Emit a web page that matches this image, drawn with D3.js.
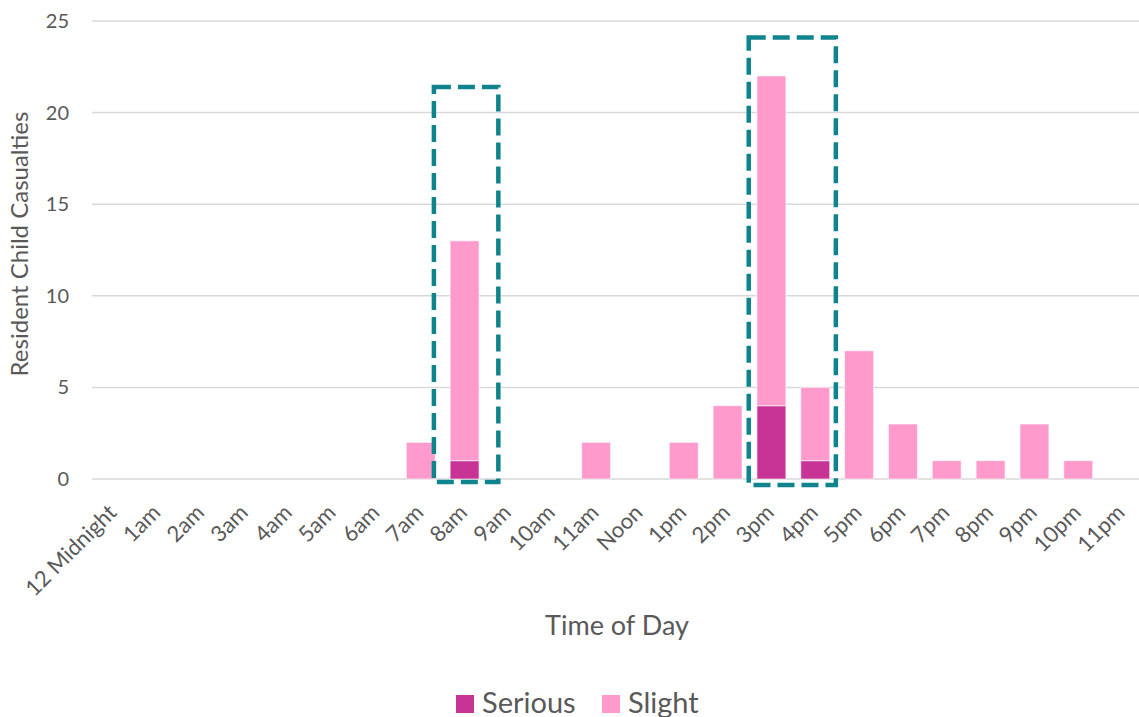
<!DOCTYPE html>
<html>
<head>
<meta charset="utf-8">
<script src="https://cdn.jsdelivr.net/npm/d3@7"></script>
<style>
  html, body { margin: 0; padding: 0; background: #ffffff; }
  svg { display: block; }
  text { font-family: Lato, "Open Sans", sans-serif; fill: #595959; }
</style>
</head>
<body>
<svg id="chart" width="1139" height="717"></svg>
<script>
// Hour-of-day categories
const hours = ["12 Midnight", "1am", "2am", "3am", "4am", "5am", "6am", "7am", "8am", "9am",
  "10am", "11am", "Noon", "1pm", "2pm", "3pm", "4pm", "5pm", "6pm", "7pm", "8pm", "9pm", "10pm", "11pm"];

// Casualties by severity, one value per hour
const serious = [0, 0, 0, 0, 0, 0, 0, 0, 1, 0, 0, 0, 0, 0, 0, 4, 1, 0, 0, 0, 0, 0, 0, 0];
const slight  = [0, 0, 0, 0, 0, 0, 0, 2, 12, 0, 0, 2, 0, 2, 4, 18, 4, 7, 3, 1, 1, 3, 1, 0];

const yTicks = [0, 5, 10, 15, 20, 25];
const seriesNames = ["Serious", "Slight"];
const seriesColors = ["#c83496", "#ff9acc"];

// School-run periods highlighted with dashed outlines
const highlightFrom = ["8am", "3pm"];
const highlightTo = ["8am", "4pm"];
const highlightTop = [21.4, 24.1];

const svg = d3.select("#chart");
const plot = { left: 92, right: 1144, top: 21, bottom: 479 };

const x = d3.scaleBand().domain(hours).range([plot.left, plot.right]).paddingInner(0.34).paddingOuter(0.17);
const y = d3.scaleLinear().domain([0, 25]).range([plot.bottom, plot.top]);

// Horizontal gridlines
svg.append("g").selectAll("line").data(yTicks).join("line")
  .attr("x1", plot.left).attr("x2", 1139)
  .attr("y1", d => y(d)).attr("y2", d => y(d))
  .attr("stroke", "#d9d9d9").attr("stroke-width", 1.5);

// Y axis labels
const yAxis = svg.append("g").attr("transform", `translate(${plot.left},0)`)
  .call(d3.axisLeft(y).tickValues(yTicks).tickSize(0).tickPadding(23));
yAxis.select(".domain").remove();
yAxis.selectAll("text").style("font-size", "20px").attr("fill", "#595959")
  .style("font-family", "Lato, sans-serif");

// Stacked bars
const rows = hours.map((h, i) => ({ hour: h, Serious: serious[i], Slight: slight[i] }));
const stack = d3.stack().keys(seriesNames)(rows);
svg.append("g").selectAll("g").data(stack).join("g")
  .attr("fill", (d, i) => seriesColors[i])
  .selectAll("rect").data(d => d.filter(p => p[1] > p[0])).join("rect")
  .attr("x", d => x(d.data.hour))
  .attr("width", x.bandwidth())
  .attr("y", d => y(d[1]))
  .attr("height", d => y(d[0]) - y(d[1]))
  .attr("stroke", "#ffffff").attr("stroke-opacity", 0.6).attr("stroke-width", 1);

// X axis labels, rotated
const xAxis = svg.append("g").attr("transform", `translate(0,${plot.bottom})`)
  .call(d3.axisBottom(x).tickSize(0).tickPadding(0));
xAxis.select(".domain").remove();
xAxis.selectAll("text")
  .style("font-size", "22px").attr("fill", "#595959")
  .style("font-family", "Lato, sans-serif")
  .attr("text-anchor", "end")
  .attr("dy", null)
  .attr("transform", "translate(4,35) rotate(-45)");

// Dashed highlight boxes
const step = x.step();
highlightFrom.forEach((h, i) => {
  const x0 = x(h) + x.bandwidth() / 2 - step * 0.7;
  const x1 = x(highlightTo[i]) + x.bandwidth() / 2 + step * (i === 0 ? 0.77 : 0.47);
  const y0 = y(highlightTop[i]);
  const y1 = y(0) + (i === 0 ? 3 : 6);
  svg.append("rect")
    .attr("x", i === 0 ? x0 + 0 : x0 + 8).attr("y", y0)
    .attr("width", x1 - (i === 0 ? x0 : x0 + 8)).attr("height", y1 - y0)
    .attr("fill", "none").attr("stroke", "#10848c")
    .attr("stroke-width", 4.5).attr("stroke-dasharray", "17 7");
});

// Axis titles
svg.append("text")
  .attr("transform", `translate(28,244) rotate(-90)`)
  .attr("text-anchor", "middle").style("font-size", "24px")
  .text("Resident Child Casualties");

svg.append("text")
  .attr("x", 617).attr("y", 635).attr("text-anchor", "middle")
  .style("font-size", "27px").text("Time of Day");

// Legend
const legend = svg.append("g");
const legendX = [456, 602];
seriesNames.forEach((name, i) => {
  legend.append("rect").attr("x", legendX[i]).attr("y", 695)
    .attr("width", 18).attr("height", 18).attr("fill", seriesColors[i]);
  legend.append("text").attr("x", legendX[i] + 26).attr("y", 713)
    .style("font-size", "29px").text(name);
});
</script>
</body>
</html>
